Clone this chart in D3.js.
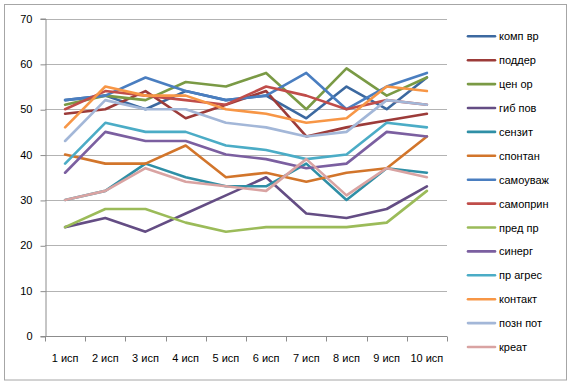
<!DOCTYPE html>
<html>
<head>
<meta charset="utf-8">
<script src="https://cdn.jsdelivr.net/npm/d3@7"></script>
<style>
  body { margin: 0; background: #fff; }
  text { font-family: "Liberation Sans", Arial, sans-serif; font-size: 11px; fill: #000; }
</style>
</head>
<body>
<div id="container"></div>
<script>
// категории по оси X
const categories = ["1 исп", "2 исп", "3 исп", "4 исп", "5 исп", "6 исп", "7 исп", "8 исп", "9 исп", "10 исп"]
const yTicks = [0, 10, 20, 30, 40, 50, 60, 70]

// названия рядов и их цвета (палитра excel)
const seriesNames = ["комп вр", "поддер", "цен ор", "гиб пов", "сензит", "спонтан", "самоуваж",
  "самоприн", "пред пр", "синерг", "пр агрес", "контакт", "позн пот", "креат"]
const seriesColors = ["#3c69a0", "#9c3b39", "#7a9a45", "#644d84", "#2f8fa6", "#d2752b", "#4a7ec0",
  "#c04d4a", "#9bbb59", "#7b5fa0", "#4bacc6", "#f79646", "#a3b7d8", "#d9a3a2"]

// значения
const kompVr   = [52, 53, 50, 54, 52, 53, 48, 55, 50, 57]
const podder   = [49, 50, 54, 48, 51, 54, 44, 46, 47.5, 49]
const cenOr    = [51, 53, 52, 56, 55, 58, 50, 59, 53, 57]
const gibPov   = [24, 26, 23, 27, 31, 35, 27, 26, 28, 33]
const senzit   = [30, 32, 38, 35, 33, 33, 38, 30, 37, 36]
const spontan  = [40, 38, 38, 42, 35, 36, 34, 36, 37, 44]
const samouvaj = [52, 53, 57, 54, 52, 53, 58, 50, 55, 58]
const samoprin = [50, 54, 53, 52, 51, 55, 53, 50, 52, 51]
const predPr   = [24, 28, 28, 25, 23, 24, 24, 24, 25, 32]
const sinerg   = [36, 45, 43, 43, 40, 39, 37, 38, 45, 44]
const prAgres  = [38, 47, 45, 45, 42, 41, 39, 40, 47, 46]
const kontakt  = [46, 55, 53, 53, 50, 49, 47, 48, 55, 54]
const poznPot  = [43, 52, 50, 50, 47, 46, 44, 45, 52, 51]
const kreat    = [30, 32, 37, 34, 33, 32, 39, 31, 37, 35]

const allValues = [kompVr, podder, cenOr, gibPov, senzit, spontan, samouvaj,
  samoprin, predPr, sinerg, prAgres, kontakt, poznPot, kreat]

const width = 573
const height = 386
const margin = { left: 45, right: 126, top: 18.5, bottom: 50 }

const svg = d3.select("#container").append("svg")
  .attr("width", width)
  .attr("height", height)

// рамка диаграммы
svg.append("rect")
  .attr("x", 4.5).attr("y", 4.5)
  .attr("width", 562).attr("height", 375.5)
  .attr("fill", "#fff")
  .attr("stroke", "#a6a6a6")
  .attr("stroke-width", 1)

const x = d3.scaleBand()
  .domain(categories)
  .range([margin.left, width - margin.right])

const y = d3.scaleLinear()
  .domain([0, 70])
  .range([height - margin.bottom, margin.top])

// сетка
svg.append("g")
  .selectAll("line")
  .data(yTicks.filter(d => d > 0))
  .join("line")
  .attr("x1", margin.left)
  .attr("x2", width - margin.right)
  .attr("y1", d => Math.round(y(d)) + 0.5)
  .attr("y2", d => Math.round(y(d)) + 0.5)
  .attr("stroke", "#b3b3b3")
  .attr("stroke-width", 1)

// ось Y
const yAxis = svg.append("g")
  .attr("transform", `translate(${margin.left + 0.5},0)`)
  .call(d3.axisLeft(y).tickValues(yTicks).tickSize(5).tickPadding(8))
yAxis.select(".domain").attr("stroke", "#8c8c8c")
yAxis.selectAll(".tick line").attr("stroke", "#8c8c8c")
  .attr("transform", "translate(0,0.5)")
yAxis.selectAll(".tick text").attr("font-size", 11).attr("font-family", "Liberation Sans, Arial, sans-serif")

// ось X (засечки между категориями)
const xAxisG = svg.append("g")
  .attr("transform", `translate(0,${Math.round(y(0)) + 0.5})`)
xAxisG.append("line")
  .attr("x1", margin.left).attr("x2", width - margin.right)
  .attr("stroke", "#8c8c8c")
xAxisG.selectAll("line.tk")
  .data(d3.range(categories.length + 1))
  .join("line")
  .attr("class", "tk")
  .attr("x1", i => Math.round(margin.left + i * x.step()) + 0.5)
  .attr("x2", i => Math.round(margin.left + i * x.step()) + 0.5)
  .attr("y1", 0).attr("y2", 5)
  .attr("stroke", "#8c8c8c")
xAxisG.selectAll("text")
  .data(categories)
  .join("text")
  .attr("x", d => x(d) + x.bandwidth() / 2)
  .attr("y", 25)
  .attr("text-anchor", "middle")
  .text(d => d)

// линии рядов
const line = d3.line()
  .x((d, i) => x(categories[i]) + x.bandwidth() / 2)
  .y(d => y(d))

svg.append("g")
  .selectAll("path")
  .data(allValues)
  .join("path")
  .attr("d", d => line(d))
  .attr("fill", "none")
  .attr("stroke", (d, i) => seriesColors[i])
  .attr("stroke-width", 2.6)
  .attr("stroke-linejoin", "round")
  .attr("stroke-linecap", "round")

// легенда
const legend = svg.append("g")
  .selectAll("g")
  .data(seriesNames)
  .join("g")
  .attr("transform", (d, i) => `translate(468,${36.3 + i * 23.9})`)

legend.append("line")
  .attr("x1", 0).attr("x2", 27)
  .attr("stroke", (d, i) => seriesColors[i])
  .attr("stroke-width", 2.6)
  .attr("stroke-linecap", "round")

legend.append("text")
  .attr("x", 31)
  .attr("y", 4)
  .text(d => d)
</script>
</body>
</html>
